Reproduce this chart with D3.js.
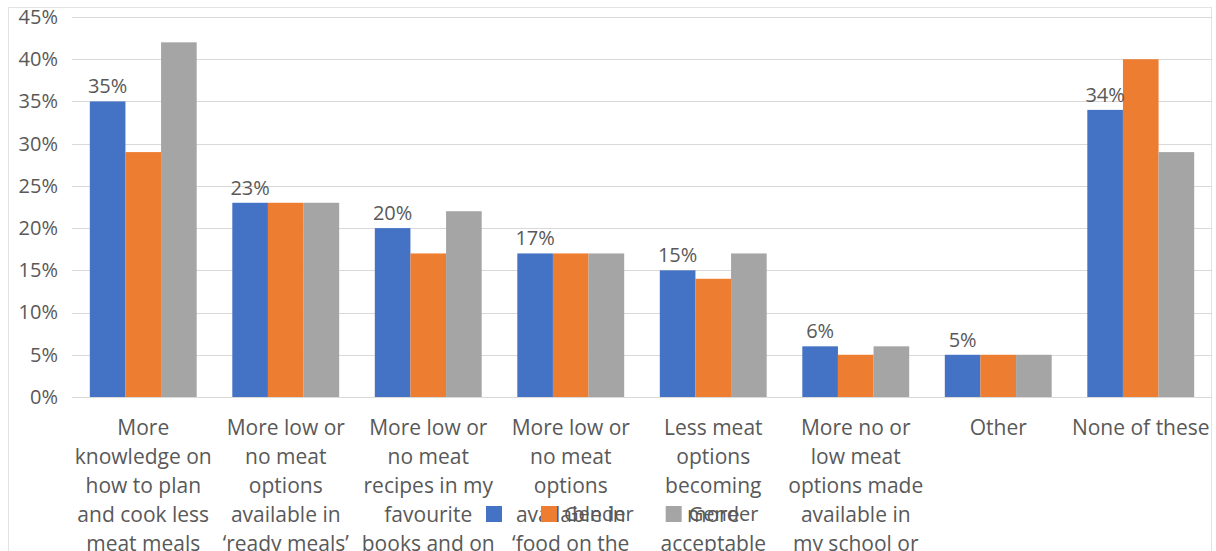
<!DOCTYPE html>
<html>
<head>
<meta charset="utf-8">
<script src="https://cdn.jsdelivr.net/npm/d3@7"></script>
<style>
  html, body { margin: 0; padding: 0; background: #ffffff; }
  svg { display: block; }
  text { font-family: "Open Sans", "Noto Sans", sans-serif; fill: #595959; }
</style>
</head>
<body>
<svg id="chart" width="1216" height="551"></svg>
<script>
// Survey answers: what would help reduce meat eating
const categories = [
  "More knowledge on how to plan and cook less meat meals",
  "More low or no meat options available in \u2018ready meals\u2019",
  "More low or no meat recipes in my favourite books and on websites",
  "More low or no meat options available in \u2018food on the go\u2019",
  "Less meat options becoming more acceptable",
  "More no or low meat options made available in my school or college",
  "Other",
  "None of these"
];
const seriesNames = ["", "Gender", "Gender"];
const seriesA = [35, 23, 20, 17, 15, 6, 5, 34];
const seriesB = [29, 23, 17, 17, 14, 5, 5, 40];
const seriesC = [42, 23, 22, 17, 17, 6, 5, 29];
const colors = ["#4472C4", "#ED7D31", "#A5A5A5"];
const yTicks = [0, 5, 10, 15, 20, 25, 30, 35, 40, 45];

const series = [seriesA, seriesB, seriesC];
const svg = d3.select("#chart");

// chart frame
svg.append("rect")
  .attr("x", 8.5).attr("y", 7.5)
  .attr("width", 1203).attr("height", 600)
  .attr("fill", "none").attr("stroke", "#e3e3e3");

const plot = { left: 72, right: 1212, top: 17, bottom: 397 };

const x0 = d3.scaleBand()
  .domain(categories)
  .range([plot.left, plot.right])
  .paddingInner(0.25).paddingOuter(0.125);
const x1 = d3.scaleBand()
  .domain(d3.range(series.length))
  .range([0, x0.bandwidth()]);
const y = d3.scaleLinear().domain([0, 45]).range([plot.bottom, plot.top]);

// gridlines
svg.append("g")
  .selectAll("line")
  .data(yTicks)
  .join("line")
  .attr("x1", plot.left).attr("x2", plot.right)
  .attr("y1", d => Math.round(y(d)) + 0.5)
  .attr("y2", d => Math.round(y(d)) + 0.5)
  .attr("stroke", "#d9d9d9").attr("stroke-width", 1.2);

// y axis labels
const yAxis = d3.axisLeft(y).tickValues(yTicks).tickFormat(d => d + "%").tickSize(0).tickPadding(0);
svg.append("g")
  .attr("transform", `translate(58,0)`)
  .call(yAxis)
  .call(g => g.select(".domain").remove())
  .call(g => g.selectAll("text")
    .attr("font-size", 20)
    .attr("font-family", null)
    .attr("fill", "#595959"));

// bars
const groups = svg.append("g")
  .selectAll("g")
  .data(categories)
  .join("g")
  .attr("transform", d => `translate(${x0(d)},0)`);

groups.selectAll("rect")
  .data((d, i) => series.map((s, k) => ({ k, v: s[i] })))
  .join("rect")
  .attr("x", d => x1(d.k))
  .attr("width", x1.bandwidth())
  .attr("y", d => y(d.v))
  .attr("height", d => y(0) - y(d.v))
  .attr("fill", d => colors[d.k]);

// value labels on the first series
groups.append("text")
  .datum((d, i) => seriesA[i])
  .attr("x", x1(0) + x1.bandwidth() / 2)
  .attr("y", d => y(d) - 8)
  .attr("text-anchor", "middle")
  .attr("font-size", 20)
  .text(d => d + "%");

// category labels, wrapped to the band width
const catAxis = d3.axisBottom(x0).tickSize(0).tickPadding(0);
svg.append("g")
  .attr("transform", `translate(0,${plot.bottom})`)
  .call(catAxis)
  .call(g => g.select(".domain").remove())
  .call(g => g.selectAll("text")
    .attr("font-size", 21)
    .attr("font-family", null)
    .attr("fill", "#595959")
    .attr("dy", null)
    .attr("y", 0)
    .each(function (d) { wrap(d3.select(this), d, 142); }));

function wrap(text, label, width) {
  const words = label.split(/\s+/);
  text.text(null);
  let line = [];
  let lineNo = 0;
  let tspan = text.append("tspan").attr("x", 0).attr("y", 38);
  for (const w of words) {
    line.push(w);
    tspan.text(line.join(" "));
    if (tspan.node().getComputedTextLength() > width && line.length > 1) {
      line.pop();
      tspan.text(line.join(" "));
      line = [w];
      lineNo += 1;
      tspan = text.append("tspan").attr("x", 0).attr("y", 38 + lineNo * 29).text(w);
    }
  }
}

// legend
const legend = svg.append("g");
const sq = 16, gapText = 7, gapItem = 32;
let lx = 486;
seriesNames.forEach((name, k) => {
  legend.append("rect")
    .attr("x", lx).attr("y", 506)
    .attr("width", sq).attr("height", sq)
    .attr("fill", colors[k]);
  const t = legend.append("text")
    .attr("x", lx + sq + gapText).attr("y", 521)
    .attr("font-size", 20)
    .text(name);
  const w = name ? t.node().getComputedTextLength() : 0;
  lx += sq + gapText + w + gapItem;
});
</script>
</body>
</html>
